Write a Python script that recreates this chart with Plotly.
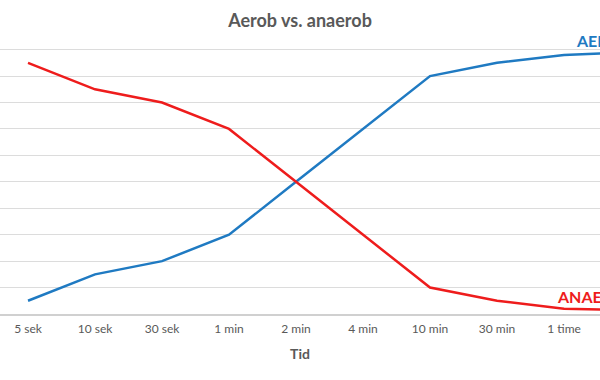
import plotly.graph_objects as go

categories = ["5 sek", "10 sek", "30 sek", "1 min", "2 min", "4 min", "10 min", "30 min", "1 time", "2 timer"]
aerob = [5, 15, 20, 30, 50, 70, 90, 95, 98, 99]
anaerob = [95, 85, 80, 70, 50, 30, 10, 5, 2, 1.5]

blue = "#1F7AC2"
red = "#EE1C1C"
gray = "#595959"
font = "Lato, Open Sans, sans-serif"

fig = go.Figure()
fig.add_trace(go.Scatter(x=categories, y=aerob, mode="lines", name="AEROB",
                         line=dict(color=blue, width=2.5), showlegend=False, hoverinfo="skip"))
fig.add_trace(go.Scatter(x=categories, y=anaerob, mode="lines", name="ANAEROB",
                         line=dict(color=red, width=2.5), showlegend=False, hoverinfo="skip"))

fig.add_annotation(x=8.15, y=aerob[-1], xref="x", yref="y", text="<b>AEROB</b>",
                   showarrow=False, xanchor="left", yanchor="bottom", yshift=0,
                   font=dict(family=font, size=16, color=blue))
fig.add_annotation(x=7.87, y=anaerob[-1], xref="x", yref="y", text="<b>ANAEROB</b>",
                   showarrow=False, xanchor="left", yanchor="bottom", yshift=2,
                   font=dict(family=font, size=16, color=red))

fig.update_layout(
    width=600, height=380,
    margin=dict(l=0, r=0, t=47, b=66, pad=0),
    paper_bgcolor="white", plot_bgcolor="white",
    title=dict(text="<b>Aerob vs. anaerob</b>", x=0.5, xanchor="center",
               y=0.945, yanchor="middle",
               font=dict(family=font, size=18, color=gray)),
    xaxis=dict(type="category", range=[-0.418, 8.537], showgrid=False, automargin=False,
               showline=True, linecolor="#D0D0D0", linewidth=1.5,
               ticks="", ticklabelstandoff=3, tickfont=dict(family=font, size=12, color=gray),
               title=dict(text="<b>Tid</b>", font=dict(family=font, size=14, color=gray), standoff=14)),
    yaxis=dict(range=[0, 101], dtick=10, showgrid=True, gridcolor="#DCDCDC", gridwidth=1,
               automargin=False, showticklabels=False, zeroline=False, ticks=""),
)

fig.write_html("out.html", config={"displayModeBar": False},
               post_script="document.body.style.margin='0';")
